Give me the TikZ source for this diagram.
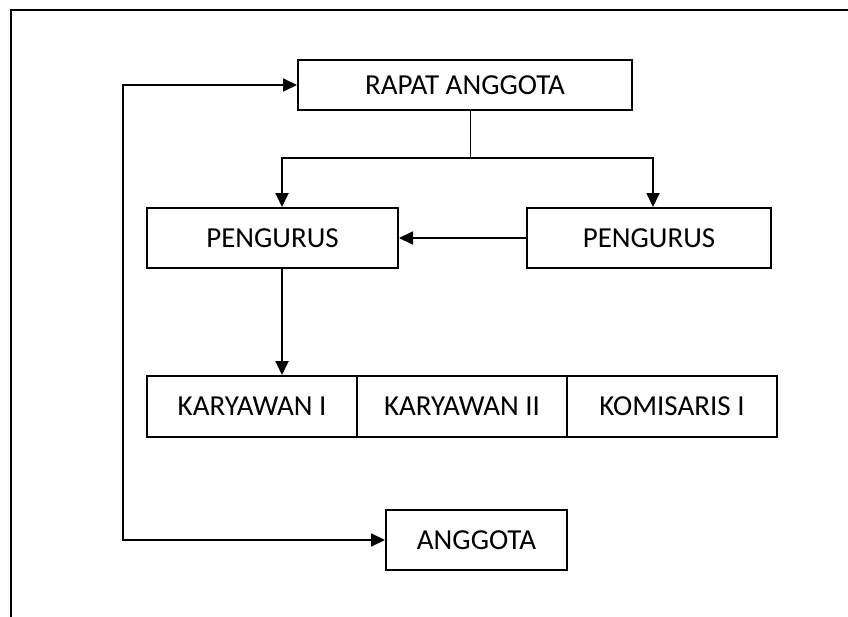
\documentclass[tikz,border=0pt]{standalone}
\usepackage{fontspec}
\setmainfont{Carlito}
\usetikzlibrary{arrows.meta}

\tikzset{
  unit/.style={draw, line width=2pt, minimum height=60pt, inner sep=0pt,
    font=\fontsize{29}{34}\selectfont},
  link/.style={line width=1.8pt, -{Triangle[length=14pt,width=13pt]}},
  dlink/.style={line width=1.8pt, {Triangle[length=14pt,width=13pt]}-{Triangle[length=14pt,width=13pt]}}
}

\begin{document}
\begin{tikzpicture}[x=1pt,y=-1pt]
        \useasboundingbox (0,0) rectangle (848,616);
        \draw[line width=2.2pt] (850,10) -- (11,10) -- (11,618);
        \node[unit, minimum width=334pt, minimum height=50pt] (rapat) at (465,85) {RAPAT ANGGOTA};
        \node[unit, minimum width=251pt] (pengl) at (272.5,238) {PENGURUS};
        \node[unit, minimum width=244pt] (pengr) at (649,238) {PENGURUS};
        \foreach \Name/\Pos/\Label in {k1/252/KARYAWAN I, k2/462/KARYAWAN II, k3/672/KOMISARIS I}
        \node[unit, minimum width=210pt, minimum height=61pt] (\Name) at (\Pos,406.5) {\Label};
        \node[unit, minimum width=181pt] (anggota) at (476.5,540) {ANGGOTA};
        % branch below rapat anggota
        \coordinate (split) at (470,158);
        \coordinate (dl) at (282,158);
        \coordinate (dr) at (653,158);
        \coordinate (loop) at (123,85);
        \draw[line width=1pt] (split |- rapat.south) -- (split);
        \draw[link] (split) -- (dl) -- (dl |- pengl.north);
        \draw[link] (split) -- (dr) -- (dr |- pengr.north);
        \draw[link] (pengr.west) -- (pengl.east);
        \draw[link] (dl |- pengl.south) -- (dl |- k1.north);
        \draw[dlink] (rapat.west) -- (loop) -- (loop |- anggota.west) -- (anggota.west);
\end{tikzpicture}
\end{document}
